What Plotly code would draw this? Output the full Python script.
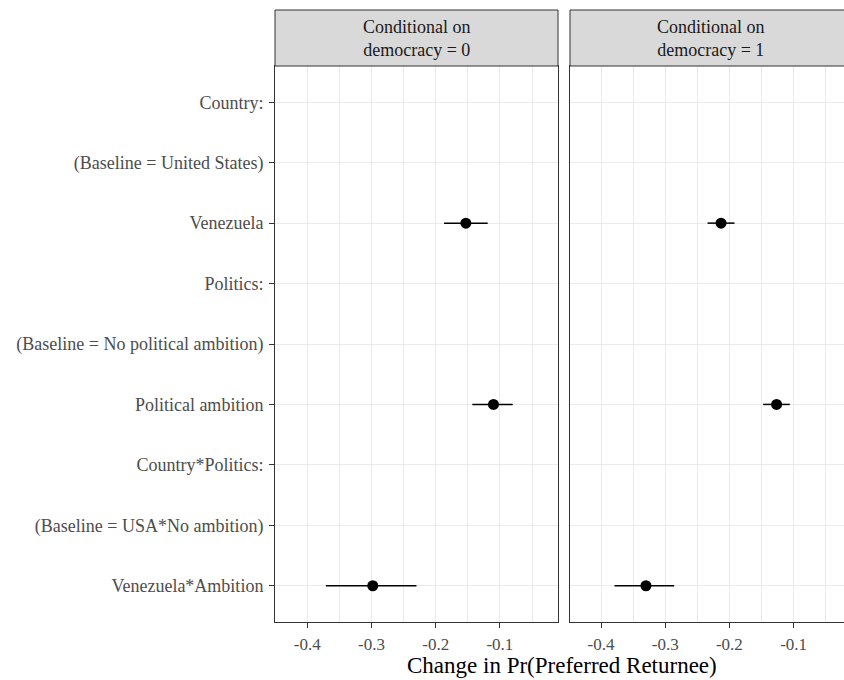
import plotly.graph_objects as go

categories = [
    "Country:",
    "(Baseline = United States)",
    "Venezuela",
    "Politics:",
    "(Baseline = No political ambition)",
    "Political ambition",
    "Country*Politics:",
    "(Baseline = USA*No ambition)",
    "Venezuela*Ambition",
]

# Panel: democracy = 0
est0 = [None, None, -0.153, None, None, -0.110, None, None, -0.298]
lo0 = [None, None, -0.187, None, None, -0.143, None, None, -0.371]
hi0 = [None, None, -0.119, None, None, -0.080, None, None, -0.230]

# Panel: democracy = 1
est1 = [None, None, -0.213, None, None, -0.1265, None, None, -0.330]
lo1 = [None, None, -0.234, None, None, -0.1475, None, None, -0.379]
hi1 = [None, None, -0.192, None, None, -0.106, None, None, -0.286]

strip_labels = ["Conditional on<br>democracy = 0", "Conditional on<br>democracy = 1"]
x_title = "Change in Pr(Preferred Returnee)"
tick_vals = [-0.4, -0.3, -0.2, -0.1]
tick_text = ["-0.4", "-0.3", "-0.2", "-0.1"]

W, H = 844, 680
FONT = "Liberation Serif, Times New Roman, serif"

def px_x(p):
    return p / W

def px_y(p):
    return 1 - p / H

fig = go.Figure()

def add_panel(est, lo, hi, xa, ya):
    ys, xs, ep, em = [], [], [], []
    for c, e, l, h in zip(categories, est, lo, hi):
        if e is None:
            continue
        ys.append(c)
        xs.append(e)
        ep.append(h - e)
        em.append(e - l)
    fig.add_trace(go.Scatter(
        x=xs, y=ys, mode="markers", xaxis=xa, yaxis=ya,
        marker=dict(color="black", size=11),
        error_x=dict(type="data", array=ep, arrayminus=em, symmetric=False,
                     color="black", thickness=1.5, width=0),
        showlegend=False, hoverinfo="skip",
    ))

add_panel(est0, lo0, hi0, "x", "y")
add_panel(est1, lo1, hi1, "x2", "y2")

panel_top, panel_bot = 66, 622
p1 = (275, 558)
p2 = (570, 844)

grid = "#EBEBEB"
axcol = "#333333"

xcommon = dict(
    tickmode="array", tickvals=tick_vals, ticktext=tick_text,
    ticks="outside", ticklen=5, tickcolor=axcol, tickwidth=1,
    tickfont=dict(family=FONT, size=17, color="#4D4D4D"),
    ticklabelstandoff=2,
    showgrid=True, gridcolor=grid, gridwidth=1,
    minor=dict(tickmode="array", tickvals=[-0.45, -0.35, -0.25, -0.15, -0.05],
               showgrid=True, gridcolor=grid, gridwidth=0.6, ticks=""),
    showline=True, linecolor=axcol, linewidth=1, mirror=True,
    zeroline=False, automargin=False, fixedrange=True,
)

fig.update_layout(
    width=W, height=H,
    margin=dict(l=0, r=0, t=0, b=0),
    paper_bgcolor="white", plot_bgcolor="white",
    font=dict(family=FONT),
    xaxis=dict(domain=[px_x(p1[0]), px_x(p1[1])], range=[-0.4503, -0.0095], anchor="y", **xcommon),
    xaxis2=dict(domain=[px_x(p2[0]), 1.0], range=[-0.4483, -0.0215], anchor="y2", **xcommon),
    yaxis=dict(
        domain=[px_y(panel_bot), px_y(panel_top)], anchor="x",
        type="category", categoryorder="array", categoryarray=categories,
        range=[8.6, -0.6],
        ticks="outside", ticklen=5, tickcolor=axcol, tickwidth=1,
        tickfont=dict(family=FONT, size=18, color="#4D4D4D"),
        ticklabelstandoff=2,
        showgrid=True, gridcolor=grid, gridwidth=1,
        showline=True, linecolor=axcol, linewidth=1, mirror=True,
        zeroline=False, automargin=False, fixedrange=True,
    ),
    yaxis2=dict(
        domain=[px_y(panel_bot), px_y(panel_top)], anchor="x2",
        type="category", categoryorder="array", categoryarray=categories,
        range=[8.6, -0.6], showticklabels=False, ticks="",
        showgrid=True, gridcolor=grid, gridwidth=1,
        showline=True, linecolor=axcol, linewidth=1, mirror=False,
        zeroline=False, automargin=False, fixedrange=True,
    ),
)

# strips
strip_top = 10
for (x0, x1), lab in zip([p1, (p2[0], p2[1] + 10)], strip_labels):
    fig.add_shape(type="rect", xref="paper", yref="paper",
                  x0=px_x(x0), x1=px_x(x1), y0=px_y(panel_top), y1=px_y(strip_top),
                  fillcolor="#D9D9D9", line=dict(color=axcol, width=1), layer="above")
for (x0, x1), lab in zip([p1, (p2[0], 851)], strip_labels):
    fig.add_annotation(xref="paper", yref="paper",
                       x=px_x((x0 + x1) / 2), y=px_y((strip_top + panel_top) / 2),
                       text=lab, showarrow=False, xanchor="center", yanchor="middle",
                       font=dict(family=FONT, size=18, color="#1A1A1A"))

fig.add_annotation(xref="paper", yref="paper", x=px_x(562), y=px_y(665),
                   text=x_title, showarrow=False, xanchor="center", yanchor="middle",
                   font=dict(family=FONT, size=23, color="black"))

fig.write_html("out.html")
